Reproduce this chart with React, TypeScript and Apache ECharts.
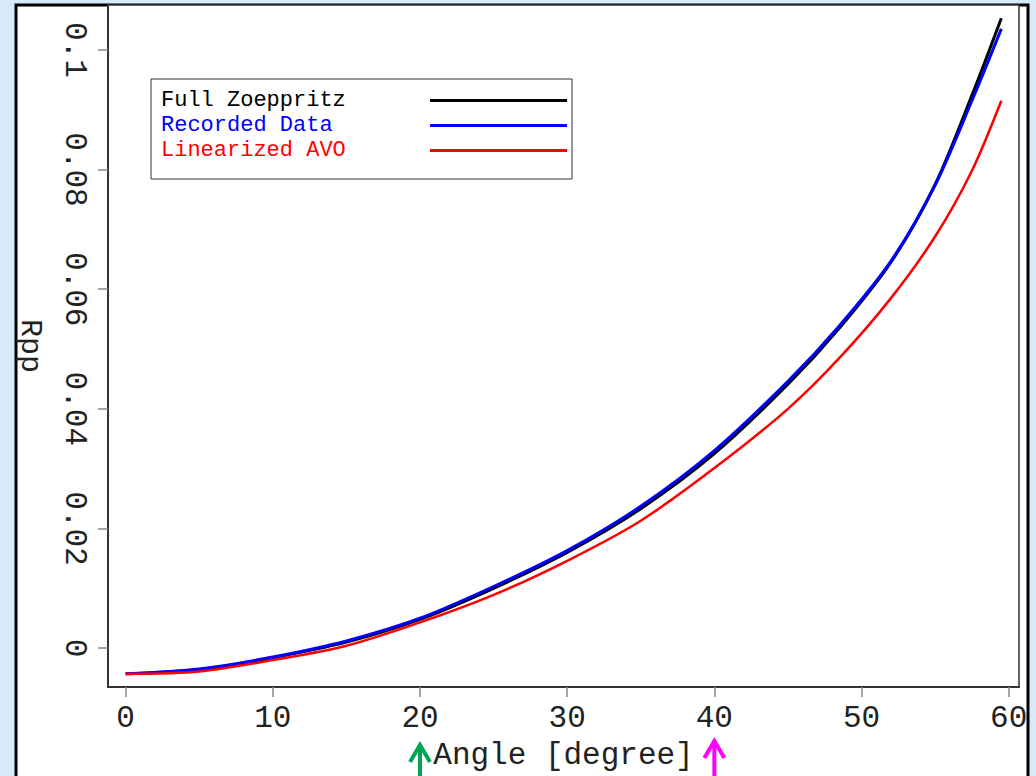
import React, { useEffect, useRef } from "react";
import * as echarts from "echarts";

const angles = [0, 5, 10, 15, 20, 25, 30, 35, 40, 45, 48.5, 52, 55, 57.5, 59.5];
const fullZoeppritz = [-0.0043, -0.0036, -0.0016, 0.001, 0.0048, 0.01, 0.016, 0.0233, 0.0325, 0.0441, 0.0535, 0.0645, 0.0775, 0.0924, 0.1053];
const recordedData = [-0.0043, -0.0035, -0.0015, 0.0012, 0.005, 0.0103, 0.0163, 0.0237, 0.033, 0.0446, 0.0539, 0.0647, 0.0774, 0.0915, 0.1035];
const linearizedAVO = [-0.0043, -0.0039, -0.002, 0.0004, 0.0043, 0.0089, 0.0146, 0.0213, 0.0301, 0.04, 0.0485, 0.0585, 0.0688, 0.0798, 0.0915];

const seriesNames = ["Full Zoeppritz", "Recorded Data", "Linearized AVO"];
const seriesColors = ["#000000", "#0000ff", "#ff0000"];

const xTicks = [0, 10, 20, 30, 40, 50, 60];
const yTicks = [0, 0.02, 0.04, 0.06, 0.08, 0.1];
const yTickLabels = ["0", "0.02", "0.04", "0.06", "0.08", "0.1"];

const markedAngles = [20, 40];
const markColors = ["#00a651", "#ff00ff"];
const markTops = [745, 741];

const FONT = "Liberation Mono";

export default function App() {
  const ref = useRef<HTMLDivElement>(null);
  useEffect(() => {
    if (!ref.current) return;
    const chart = echarts.init(ref.current, undefined, { renderer: "svg" });
    const seriesData = [fullZoeppritz, recordedData, linearizedAVO];
    const option: any = {
      animation: false,
      backgroundColor: "#d7eafa",
      grid: {
        left: 108,
        right: 17,
        top: 5,
        bottom: 88,
        show: true,
        borderColor: "#333",
        borderWidth: 1.5,
        backgroundColor: "#fff",
      },
      legend: {
        show: true,
        orient: "vertical",
        left: 151,
        top: 79,
        align: "right",
        padding: [9, 5, 16, 10],
        itemGap: 0,
        itemWidth: 137,
        itemHeight: 3,
        icon: "rect",
        borderColor: "#333",
        borderWidth: 1,
        backgroundColor: "#fff",
        formatter: (name: string) => name.padEnd(20, "\u00a0"),
        textStyle: { fontFamily: FONT, fontSize: 22, lineHeight: 25 },
        data: seriesNames.map((n, i) => ({ name: n, textStyle: { color: seriesColors[i] } })),
      },
      xAxis: {
        type: "value",
        min: -1.2,
        max: 60.7,
        name: "Angle [degree]",
        nameLocation: "middle",
        nameGap: 53,
        nameTextStyle: { fontFamily: FONT, fontSize: 31, color: "#222" },
        axisLine: { show: true, onZero: false, lineStyle: { color: "#333", width: 2 } },
        axisTick: { show: true, length: 10, customValues: xTicks, lineStyle: { color: "#888", width: 1.5 } },
        axisLabel: { customValues: xTicks, margin: 16, fontFamily: FONT, fontSize: 31, color: "#222" },
        splitLine: { show: false },
      },
      yAxis: {
        type: "value",
        min: -0.0065,
        max: 0.1075,
        name: "Rpp",
        nameLocation: "middle",
        nameRotate: -90,
        nameGap: 63,
        nameTextStyle: { fontFamily: FONT, fontSize: 30, color: "#222" },
        axisLine: { show: true, onZero: false, lineStyle: { color: "#333", width: 2 } },
        axisTick: { show: true, length: 10, customValues: yTicks, lineStyle: { color: "#888", width: 1.5 } },
        axisLabel: {
          customValues: yTicks,
          rotate: -90,
          margin: 18,
          fontFamily: FONT,
          fontSize: 31,
          color: "#222",
          formatter: (v: number) => {
            const idx = yTicks.findIndex((t) => Math.abs(t - v) < 1e-9);
            return idx >= 0 ? yTickLabels[idx] : "";
          },
        },
        splitLine: { show: false },
      },
      series: seriesNames.map((n, i) => ({
        name: n,
        type: "line",
        smooth: 0.3,
        showSymbol: false,
        symbol: "none",
        color: seriesColors[i],
        itemStyle: { color: seriesColors[i] },
        lineStyle: { color: seriesColors[i], width: i === 2 ? 2.5 : 3 },
        data: angles.map((a, k) => [a, seriesData[i][k]]),
        z: 3 + i,
      })),
    };
    chart.setOption(option);

    const y0 = 776;
    const arrows: any[] = [];
    markedAngles.forEach((a, i) => {
      const px = chart.convertToPixel({ xAxisIndex: 0 }, a) as number;
      const top = markTops[i];
      arrows.push({
        type: "line",
        shape: { x1: px, y1: y0 + 2, x2: px, y2: top + 1 },
        style: { stroke: markColors[i], lineWidth: 4 },
        z: 100,
      });
      arrows.push({
        type: "polyline",
        shape: { points: [[px - 10, top + 17], [px, top], [px + 10, top + 17]] },
        style: { stroke: markColors[i], lineWidth: 4, fill: null, lineJoin: "miter" },
        z: 100,
      });
    });
    chart.setOption({
      graphic: [
        {
          type: "rect",
          shape: { x: 16, y: 5, width: 1012, height: 800 },
          style: { fill: "#fff", stroke: "#000", lineWidth: 3 },
          z: -10,
          silent: true,
        },
        ...arrows,
      ],
    });
    return () => chart.dispose();
  }, []);
  return (
    <div
      ref={ref}
      style={{ position: "fixed", left: 0, top: 0, width: 1036, height: 776 }}
    />
  );
}
